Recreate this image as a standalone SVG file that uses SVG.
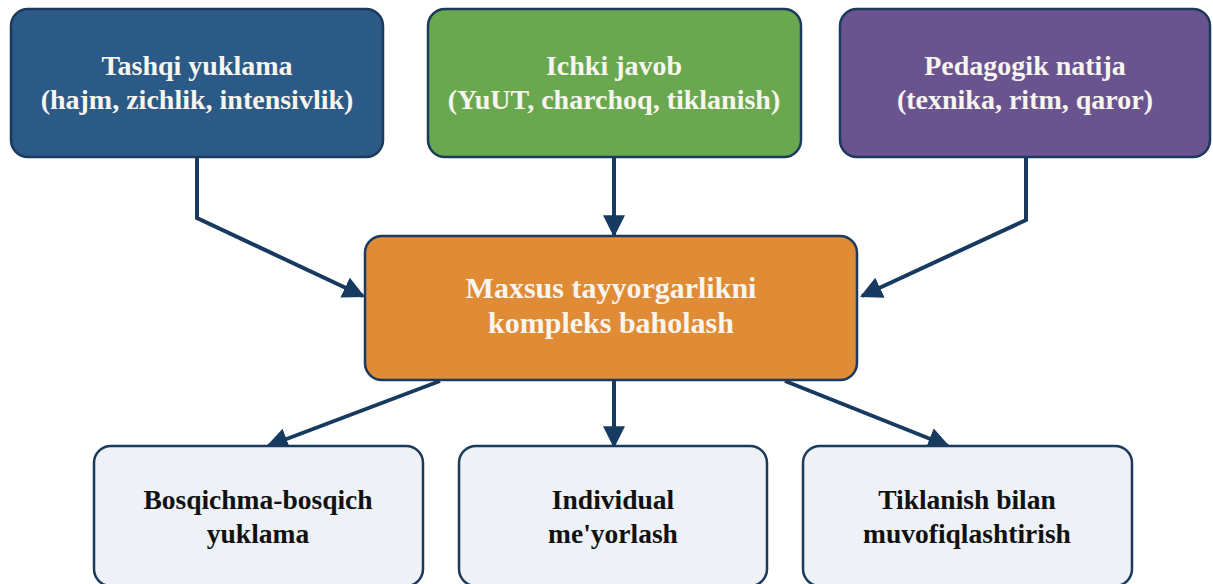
<svg xmlns="http://www.w3.org/2000/svg" width="1213" height="584" viewBox="0 0 1213 584">
<style>
.box{stroke:#1b3a5c;stroke-width:2.5}
.t{font-family:'Liberation Serif','Times New Roman',serif;font-weight:bold;text-anchor:middle}
.w{fill:#f7f5ee;font-size:28px}
.c{fill:#f7f5ee;font-size:30px}
.d{fill:#111;font-size:27.5px}
.con{fill:none;stroke:#173a60;stroke-width:4;stroke-linejoin:miter}
</style>
<defs>
<marker id="ah" viewBox="0 0 10 10" refX="9" refY="5" markerWidth="5.5" markerHeight="5.5" markerUnits="strokeWidth" orient="auto">
<path d="M0,0 L10,5 L0,10 Z" fill="#173a60"/>
</marker>
</defs>
<rect x="0" y="0" width="1213" height="584" fill="#ffffff"/>
<g id="connectors">
<polyline class="con" points="197,157 197,218 363,296" marker-end="url(#ah)"/>
<polyline class="con" points="614,157 614,235" marker-end="url(#ah)"/>
<polyline class="con" points="1026,157 1026,220 862,296" marker-end="url(#ah)"/>
<polyline class="con" points="440,381 268,446" marker-end="url(#ah)"/>
<polyline class="con" points="614,381 614,446" marker-end="url(#ah)"/>
<polyline class="con" points="785,381 948,446" marker-end="url(#ah)"/>
</g>
<g id="n1">
<rect class="box" x="11" y="9" width="372" height="148" rx="17" fill="#2b5a86"/>
<text class="t w" x="197" y="75">Tashqi yuklama</text>
<text class="t w" x="197" y="109">(hajm, zichlik, intensivlik)</text>
</g>
<g id="n2">
<rect class="box" x="428" y="9" width="373" height="148" rx="17" fill="#6aa84f"/>
<text class="t w" x="614" y="75">Ichki javob</text>
<text class="t w" x="614" y="109">(YuUT, charchoq, tiklanish)</text>
</g>
<g id="n3">
<rect class="box" x="840" y="9" width="370" height="148" rx="17" fill="#6a5490"/>
<text class="t w" x="1025" y="75">Pedagogik natija</text>
<text class="t w" x="1025" y="109">(texnika, ritm, qaror)</text>
</g>
<g id="center">
<rect class="box" x="365" y="236" width="492" height="144" rx="17" fill="#e08b36"/>
<text class="t c" x="611" y="298">Maxsus tayyorgarlikni</text>
<text class="t c" x="611" y="333">kompleks baholash</text>
</g>
<g id="b1">
<rect class="box" x="94" y="446" width="329" height="140" rx="17" fill="#eef1f5"/>
<text class="t d" x="258" y="509">Bosqichma-bosqich</text>
<text class="t d" x="258" y="543">yuklama</text>
</g>
<g id="b2">
<rect class="box" x="459" y="446" width="308" height="140" rx="17" fill="#eef1f5"/>
<text class="t d" x="613" y="509">Individual</text>
<text class="t d" x="613" y="543">me'yorlash</text>
</g>
<g id="b3">
<rect class="box" x="803" y="446" width="329" height="140" rx="17" fill="#eef1f5"/>
<text class="t d" x="967" y="509">Tiklanish bilan</text>
<text class="t d" x="967" y="543">muvofiqlashtirish</text>
</g>
</svg>
